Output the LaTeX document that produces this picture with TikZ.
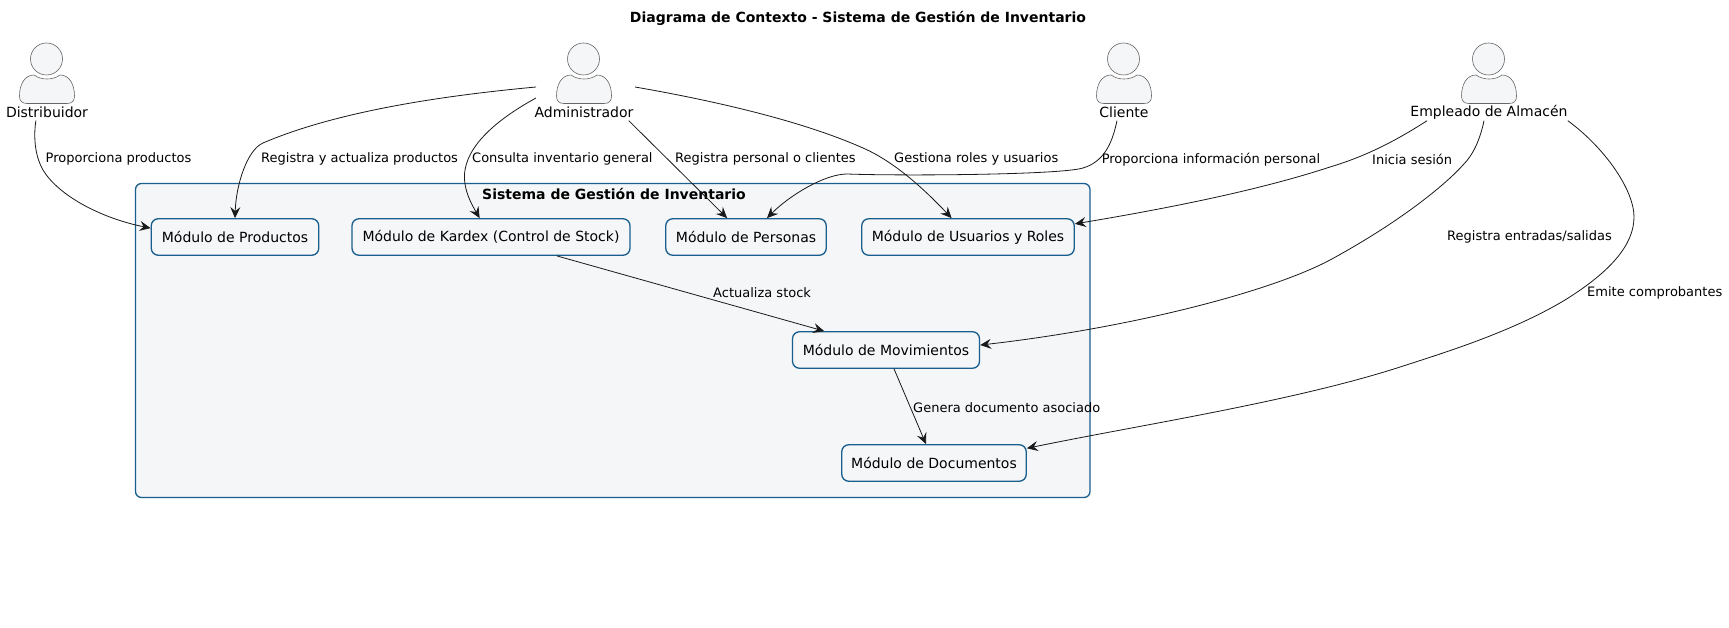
\documentclass[tikz,border=0pt]{standalone}
\usepackage{fontspec}
\setmainfont{DejaVu Sans}
\usetikzlibrary{arrows.meta}
\definecolor{boxfill}{HTML}{F4F6F8}
\definecolor{boxline}{HTML}{1A5E8E}
\definecolor{actline}{HTML}{666666}
\tikzset{
  modulo/.style={draw=boxline,fill=boxfill,line width=1.3pt,rounded corners=7pt,minimum height=36.5pt,inner sep=0pt,font=\fontsize{14}{16}\selectfont},
  actline/.style={draw=actline,fill=boxfill,line width=0.6pt},
  actlabel/.style={inner sep=0pt,minimum height=17pt,font=\fontsize{14}{16}\selectfont},
  edgelabel/.style={inner sep=0pt,anchor=west,font=\fontsize{13}{15}\selectfont},
  conn/.style={draw=black!90,line width=0.8pt,-{Stealth[length=11pt,width=10pt,inset=4pt]}}
}
\begin{document}
\begin{tikzpicture}[x=1pt,y=-1pt]
\useasboundingbox (0,0) rectangle (1729,628);
\node[font=\fontsize{14}{16}\selectfont\bfseries,inner sep=0pt] (titulo) at (858,18.5) {Diagrama de Contexto - Sistema de Gestión de Inventario};

% sistema
\draw[draw=boxline,fill=boxfill,line width=1.3pt,rounded corners=6pt] (135.5,183.5) rectangle (1090,497.5);
\node[font=\fontsize{14}{16}\selectfont\bfseries,inner sep=0pt] (sistema) at (614,194.5) {Sistema de Gestión de Inventario};

% modulos
\node[modulo,minimum width=167.5pt] (prod) at (235,237) {Módulo de Productos};
\node[modulo,minimum width=278pt] (kardex) at (491,237) {Módulo de Kardex (Control de Stock)};
\node[modulo,minimum width=160.5pt] (pers) at (746,237) {Módulo de Personas};
\node[modulo,minimum width=212.5pt] (usua) at (968,237) {Módulo de Usuarios y Roles};
\node[modulo,minimum width=187pt] (movi) at (886,350) {Módulo de Movimientos};
\node[modulo,minimum width=184.5pt] (docu) at (934,463) {Módulo de Documentos};

% actores
\foreach \id/\x/\txt in {dist/47/Distribuidor, admin/584/Administrador, clie/1124/Cliente, empl/1489/Empleado de Almacén} {
    \draw[actline] (\x-0.5,59) circle (16);
    \draw[actline] (\x-27.5,96) .. controls (\x-27.5,84) and (\x-22,75) .. (\x-13,75)
        .. controls (\x-9,78) and (\x-4,79) .. (\x,79)
        .. controls (\x+4,79) and (\x+9,78) .. (\x+13,75)
        .. controls (\x+22,75) and (\x+27.5,84) .. (\x+27.5,96)
        .. controls (\x+27.5,101) and (\x+25,103.5) .. (\x+20,103.5)
        -- (\x-20,103.5) .. controls (\x-25,103.5) and (\x-27.5,101) .. (\x-27.5,96) -- cycle;
    \node[actlabel] (\id) at (\x,112) {\txt};
}
\coordinate (adminA) at (536,87);
\coordinate (adminB) at (536,98);
\coordinate (adminC) at (635,87);

% conexiones
\draw[conn] (dist.-142) .. controls (33,140) and (36,158) .. (43,170) .. controls (58,195) and (100,218) .. (prod.174);
\draw[conn] (adminA) .. controls (450,95) and (340,110) .. (263,143) .. controls (247,150) and (236,185) .. (prod.north);
\draw[conn] (adminB) .. controls (505,115) and (470,140) .. (465,170) .. controls (462,188) and (472,205) .. (kardex.121);
\draw[conn] (admin.-11.7) -- (pers.135.8);
\draw[conn] (adminC) .. controls (710,100) and (800,120) .. (863,148) .. controls (895,162) and (925,190) .. (usua.131);
\draw[conn] (clie.-129.5) .. controls (1112,145) and (1103,162) .. (1083,168) .. controls (1060,175) and (900,176) .. (847,174) .. controls (825,174) and (790,195) .. (pers.42);
\draw[conn] (empl.-172) .. controls (1400,138) and (1370,155) .. (1330,167) .. controls (1260,190) and (1170,208) .. (usua.7.5);
\draw[conn] (empl.-120) .. controls (1480,140) and (1473,155) .. (1463,165) .. controls (1445,185) and (1400,222) .. (1330,260) .. controls (1270,292) and (1130,328) .. (movi.3.9);
\draw[conn] (empl.south east) .. controls (1605,148) and (1634,190) .. (1634,217) .. controls (1634,245) and (1610,272) .. (1565,300) .. controls (1510,333) and (1440,354) .. (1397,368) .. controls (1290,402) and (1140,425) .. (docu.9.2);
\draw[conn] (kardex.-16.4) -- (movi.163.8);
\draw[conn] (movi.-67.5) -- (docu.113.6);

% etiquetas
\foreach \id/\x/\y/\txt in {lprov/45.5/159.2/Proporciona productos, lreg/261/159.2/Registra y actualiza productos, lcons/472/159.2/Consulta inventario general, lpers/675/159.2/Registra personal o clientes, lgest/894/159.2/Gestiona roles y usuarios, linfo/1101.6/159.2/Proporciona información personal, lini/1372/159.2/Inicia sesión, lentr/1447/237/{Registra entradas/salidas}, lemit/1587/293/Emite comprobantes, lact/713/293/Actualiza stock, lgen/913/407.5/Genera documento asociado} {
    \node[edgelabel] (\id) at (\x,\y) {\txt};
}
\end{tikzpicture}
\end{document}
